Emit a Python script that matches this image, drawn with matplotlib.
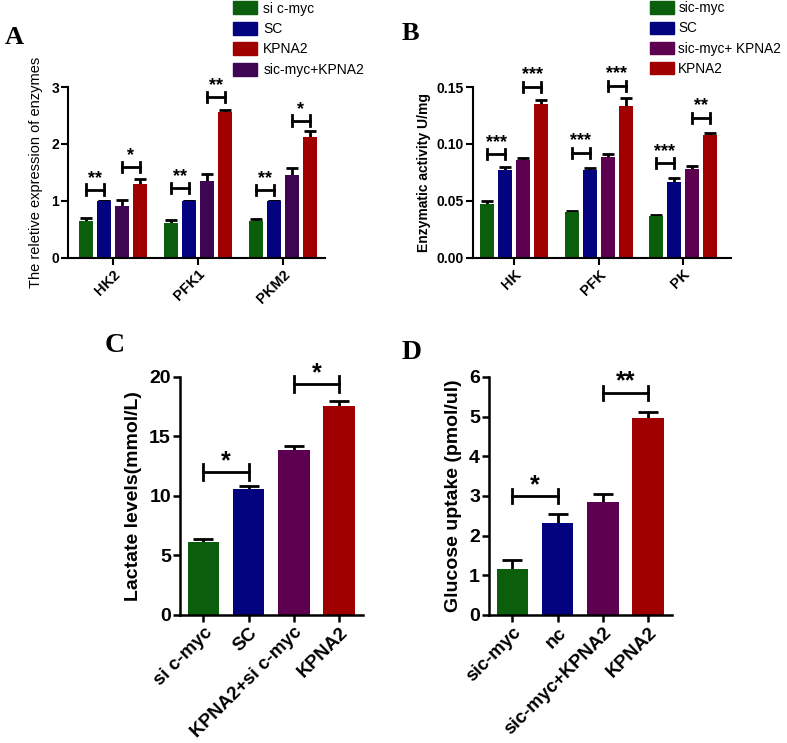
import matplotlib
matplotlib.use("Agg")
import matplotlib.pyplot as plt
import numpy as np
from matplotlib.patches import Patch

plt.rcParams["font.family"] = ["Liberation Sans", "DejaVu Sans"]

green = "#0b5e0b"
blue = "#03037f"
purple_a = "#3e0652"
purple = "#5c004f"
red = "#a10000"

# panel A
a_genes = ["HK2", "PFK1", "PKM2"]
a_sicmyc = [0.65, 0.62, 0.64]
a_sicmyc_err = [0.05, 0.05, 0.05]
a_sc = [1.0, 1.0, 1.0]
a_sc_err = [0.0, 0.0, 0.0]
a_mix = [0.92, 1.35, 1.46]
a_mix_err = [0.10, 0.12, 0.12]
a_kpna2 = [1.30, 2.57, 2.12]
a_kpna2_err = [0.08, 0.03, 0.10]
a_sig1 = [1.20, 1.23, 1.19]
a_sig1_txt = ["**", "**", "**"]
a_sig2 = [1.60, 2.82, 2.41]
a_sig2_txt = ["*", "**", "*"]

# panel B
b_genes = ["HK", "PFK", "PK"]
b_sicmyc = [0.047, 0.040, 0.037]
b_sicmyc_err = [0.003, 0.001, 0.001]
b_sc = [0.077, 0.077, 0.067]
b_sc_err = [0.003, 0.002, 0.003]
b_mix = [0.086, 0.089, 0.078]
b_mix_err = [0.002, 0.002, 0.003]
b_kpna2 = [0.135, 0.133, 0.108]
b_kpna2_err = [0.004, 0.007, 0.002]
b_sig1 = [0.091, 0.092, 0.083]
b_sig1_txt = ["***", "***", "***"]
b_sig2 = [0.150, 0.151, 0.123]
b_sig2_txt = ["***", "***", "**"]

# panel C
c_groups = ["si c-myc", "SC", "KPNA2+si c-myc", "KPNA2"]
c_vals = [6.1, 10.6, 13.9, 17.55]
c_err = [0.25, 0.2, 0.3, 0.4]
c_sig = [12.0, 19.4]

# panel D
d_groups = ["sic-myc", "nc", "sic-myc+KPNA2", "KPNA2"]
d_vals = [1.17, 2.31, 2.84, 4.97]
d_err = [0.21, 0.23, 0.22, 0.15]
d_sig = [3.0, 5.6]

fig = plt.figure(figsize=(7.87, 7.43), dpi=100)


def style(ax, lw=1.5):
    for s in ["top", "right"]:
        ax.spines[s].set_visible(False)
    for s in ["left", "bottom"]:
        ax.spines[s].set_linewidth(lw)
    ax.tick_params(direction="out", width=lw, length=5, pad=1.5)


def bracket(ax, x1, x2, y, cap, txt, fs, gap, lw=2):
    ax.plot([x1, x2], [y, y], color="k", lw=lw, clip_on=False)
    ax.plot([x1, x1], [y - cap, y + cap], color="k", lw=lw, clip_on=False)
    ax.plot([x2, x2], [y - cap, y + cap], color="k", lw=lw, clip_on=False)
    ax.annotate(txt, ((x1 + x2) / 2, y), xytext=(0, gap), textcoords="offset points",
                ha="center", va="baseline", fontsize=fs, fontweight="bold",
                annotation_clip=False)


def grouped(ax, series, errs, colors, width, step, capsize):
    x = np.arange(3)
    offs = [-1.5 * step, -0.5 * step, 0.5 * step, 1.5 * step]
    for vals, err, col, off in zip(series, errs, colors, offs):
        ax.bar(x + off, vals, width, color=col, zorder=2)
        ax.errorbar(x + off, vals, yerr=err, fmt="none",
                    ecolor="k", elinewidth=2, capsize=capsize, capthick=2, zorder=1)
    return x, offs


# ---- A ----
axA = fig.add_axes([0.0864, 0.6528, 0.3266, 0.2301])
style(axA)
x, offs = grouped(axA, [a_sicmyc, a_sc, a_mix, a_kpna2],
                  [a_sicmyc_err, a_sc_err, a_mix_err, a_kpna2_err],
                  [green, blue, purple_a, red], 0.165, 0.212, 4)
for i in range(3):
    bracket(axA, i + offs[0], i + offs[1], a_sig1[i], 0.09, a_sig1_txt[i], 13, 5)
    bracket(axA, i + offs[2], i + offs[3], a_sig2[i], 0.09, a_sig2_txt[i], 13, 5)
axA.set_xlim(-0.53, 2.5)
axA.set_ylim(0, 3)
axA.set_yticks([0, 1, 2, 3])
axA.set_xticks(x)
axA.set_xticklabels(a_genes, rotation=45, ha="right", rotation_mode="anchor",
                    fontsize=10.5, fontweight="bold")
for t in axA.get_yticklabels():
    t.set_fontweight("bold")
    t.set_fontsize(10)
axA.set_ylabel("The reletive expression of enzymes", fontsize=10.5, labelpad=6)
axA.legend(handles=[Patch(color=green, label="si c-myc"), Patch(color=blue, label="SC"),
                    Patch(color=red, label="KPNA2"), Patch(color=purple_a, label="sic-myc+KPNA2")],
           loc="upper left", bbox_to_anchor=(232 / 787, 1.0), bbox_transform=fig.transFigure,
           frameon=False, fontsize=10, handlelength=1.7, handleheight=1.05,
           labelspacing=0.45, handletextpad=0.45, borderpad=0.1, borderaxespad=0)
fig.text(0.006, 0.95, "A", fontsize=19, fontweight="bold", family="Liberation Serif",
         va="center")

# ---- B ----
axB = fig.add_axes([0.601, 0.6528, 0.3279, 0.2301])
style(axB)
x, offs = grouped(axB, [b_sicmyc, b_sc, b_mix, b_kpna2],
                  [b_sicmyc_err, b_sc_err, b_mix_err, b_kpna2_err],
                  [green, blue, purple, red], 0.167, 0.214, 4)
for i in range(3):
    bracket(axB, i + offs[0], i + offs[1], b_sig1[i], 0.0045, b_sig1_txt[i], 13, 5.5)
    bracket(axB, i + offs[2], i + offs[3], b_sig2[i], 0.0045, b_sig2_txt[i], 13, 5.5)
axB.set_xlim(-0.49, 2.57)
axB.set_ylim(0, 0.15)
axB.set_yticks([0, 0.05, 0.10, 0.15])
axB.set_yticklabels(["0.00", "0.05", "0.10", "0.15"], fontsize=10, fontweight="bold")
axB.set_xticks(x)
axB.set_xticklabels(b_genes, rotation=45, ha="right", rotation_mode="anchor",
                    fontsize=10.5, fontweight="bold")
axB.set_ylabel("Enzymatic activity U/mg", fontsize=10, fontweight="bold", labelpad=4)
axB.legend(handles=[Patch(color=green, label="sic-myc"), Patch(color=blue, label="SC"),
                    Patch(color=purple, label="sic-myc+ KPNA2"), Patch(color=red, label="KPNA2")],
           loc="upper left", bbox_to_anchor=(649 / 787, 1.0), bbox_transform=fig.transFigure,
           frameon=False, fontsize=9.8, handlelength=1.7, handleheight=1.05,
           labelspacing=0.45, handletextpad=0.35, borderpad=0.1, borderaxespad=0)
fig.text(0.51, 0.955, "B", fontsize=19, fontweight="bold", family="Liberation Serif",
         va="center")


def single(ax, vals, err, labels, ylim, yticks, ylabel, sig, cap, sig_txt):
    style(ax, lw=1.8)
    x = np.arange(4)
    ax.bar(x, vals, 0.7, color=[green, blue, purple, red], zorder=2)
    ax.errorbar(x, vals, yerr=err, fmt="none", ecolor="k",
                elinewidth=2, capsize=7, capthick=2, zorder=1)
    bracket(ax, 0, 1, sig[0], cap, sig_txt[0], 18, 3)
    bracket(ax, 2, 3, sig[1], cap, sig_txt[1], 18, 3)
    ax.set_xlim(-0.52, 3.53)
    ax.set_ylim(*ylim)
    ax.set_yticks(yticks)
    for t in ax.get_yticklabels():
        t.set_fontweight("bold")
        t.set_fontsize(14)
    ax.set_xticks(x)
    ax.set_xticklabels(labels, rotation=45, ha="right", rotation_mode="anchor",
                       fontsize=13.5, fontweight="bold")
    ax.set_ylabel(ylabel, fontsize=14, fontweight="bold", labelpad=5)


axC = fig.add_axes([0.2287, 0.1723, 0.2325, 0.3203])
single(axC, c_vals, c_err, c_groups, (0, 20), [0, 5, 10, 15, 20],
       "Lactate levels(mmol/L)", c_sig, 0.65, ["*", "*"])
fig.text(0.133, 0.535, "C", fontsize=20, fontweight="bold", family="Liberation Serif",
         va="center")

axD = fig.add_axes([0.6213, 0.1723, 0.2326, 0.3203])
single(axD, d_vals, d_err, d_groups, (0, 6), [0, 1, 2, 3, 4, 5, 6],
       "Glucose uptake (pmol/ul)", d_sig, 0.17, ["*", "**"])
fig.text(0.51, 0.526, "D", fontsize=20, fontweight="bold", family="Liberation Serif",
         va="center")

fig.savefig("out.png", dpi=100)
